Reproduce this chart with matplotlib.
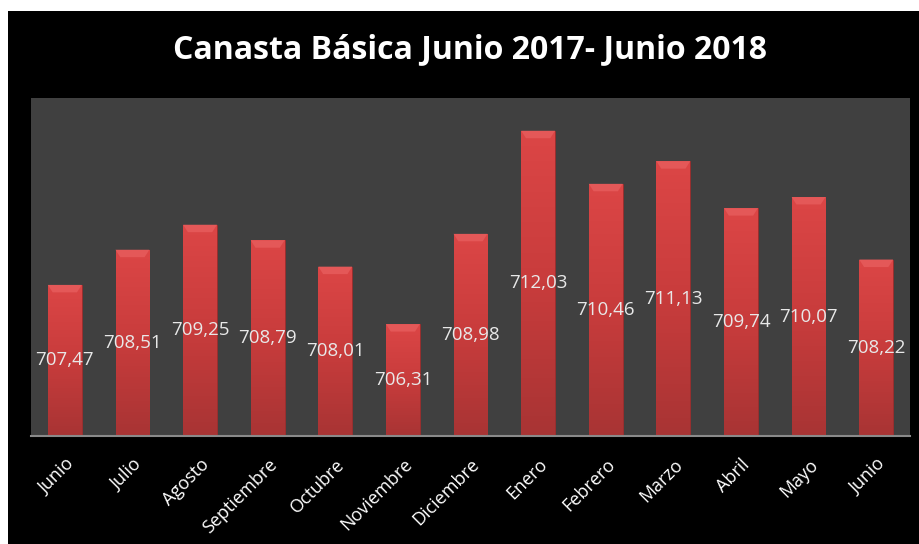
import numpy as np
import matplotlib.pyplot as plt
from matplotlib.patches import Rectangle, Polygon
from matplotlib.colors import LinearSegmentedColormap

meses = ['Junio', 'Julio', 'Agosto', 'Septiembre', 'Octubre', 'Noviembre',
         'Diciembre', 'Enero', 'Febrero', 'Marzo', 'Abril', 'Mayo', 'Junio']
valores = [707.47, 708.51, 709.25, 708.79, 708.01, 706.31,
           708.98, 712.03, 710.46, 711.13, 709.74, 710.07, 708.22]
titulo = 'Canasta Básica Junio 2017- Junio 2018'

plt.rcParams['font.family'] = ['Open Sans', 'DejaVu Sans']

fig = plt.figure(figsize=(9.19, 5.44), dpi=100, facecolor='white')
# fondo negro del grafico
fig.patches.append(Rectangle((8 / 919, 0), 911 / 919, 533 / 544,
                             transform=fig.transFigure, facecolor='black',
                             edgecolor='none', zorder=-10))

ax = fig.add_axes([31 / 919, 108 / 544, 879 / 919, 338 / 544])
ax.set_facecolor('#404040')
ymin, ymax = 703, 713
x = np.arange(len(meses))

ancho = 0.5
barras = ax.bar(x, np.array(valores) - ymin, bottom=ymin, width=ancho,
                color='#d44040', edgecolor='#9a2c2c', linewidth=0.6, zorder=2)

# degradado vertical dentro de cada barra
cmap = LinearSegmentedColormap.from_list('rojo', ['#a83434', '#c83c3c', '#dc4646'])
grad = np.linspace(0, 1, 256).reshape(-1, 1)
for b, v in zip(barras, valores):
    x0 = b.get_x()
    im = ax.imshow(grad, cmap=cmap, origin='lower', aspect='auto',
                   extent=(x0, x0 + ancho, ymin, v), zorder=2.5)
    im.set_clip_path(b)
    # bisel superior
    bh = 0.22
    bw = 0.07
    ax.add_patch(Polygon([(x0, v), (x0 + ancho, v), (x0 + ancho - bw, v - bh),
                          (x0 + bw, v - bh)], closed=True,
                         facecolor='#e45858', edgecolor='none', zorder=3))
    ax.text(x0 + ancho / 2, (ymin + v) / 2, f'{v:.2f}'.replace('.', ','),
            ha='center', va='center', color='#e8e8e8', fontsize=13.5, zorder=4)

ax.set_aspect('auto')
ax.set_xlim(-0.5, len(meses) - 0.5)
ax.set_ylim(ymin, ymax)
ax.set_xticks(x)
ax.set_xticklabels(meses, rotation=45, ha='right', rotation_mode='anchor',
                   color='white', fontsize=13)
ax.tick_params(axis='x', length=0, pad=14)
ax.set_yticks([])
for s in ['top', 'right', 'left']:
    ax.spines[s].set_visible(False)
ax.spines['bottom'].set_color('#8a8a8a')
ax.spines['bottom'].set_linewidth(1.5)
ax.spines['bottom'].set_zorder(5)

fig.text(470 / 919, 1 - 50 / 544, titulo, ha='center', va='center',
         color='white', fontsize=23, fontweight='bold')

fig.savefig('out.png', dpi=100, facecolor='white')
